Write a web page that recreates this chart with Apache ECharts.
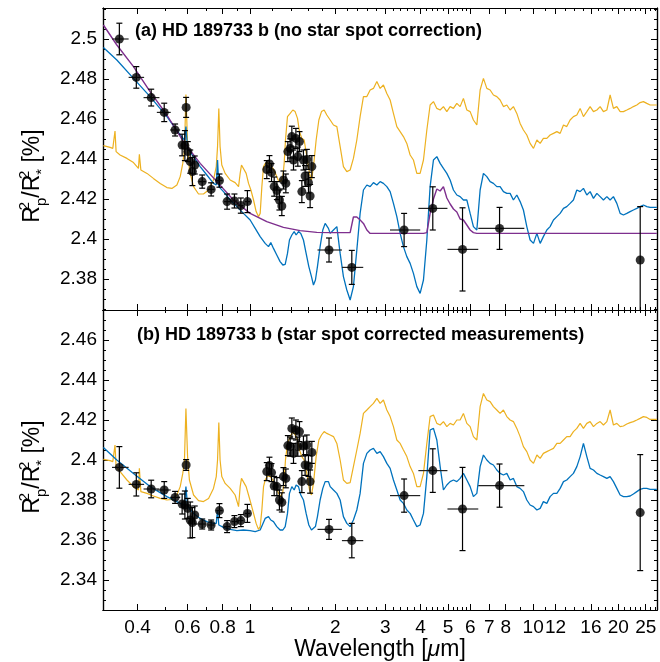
<!DOCTYPE html>
<html><head><meta charset="utf-8">
<script src="https://cdn.jsdelivr.net/npm/echarts@6/dist/echarts.min.js"></script>
<style>html,body{margin:0;padding:0;background:#fff}#c{width:660px;height:662px}</style>
</head><body><div id="c"></div>
<script>
// ---------- axis ticks ----------
const xTickLabels = [0.4, 0.6, 0.8, 1, 2, 3, 4, 5, 6, 7, 8, 10, 12, 16, 20, 25];
const xMinorTicks = [0.5, 0.7, 0.9, 1.2, 1.4, 1.6, 1.8, 2.2, 2.4, 2.6, 2.8, 3.2, 3.4, 3.6, 3.8, 4.2, 4.4, 4.6, 4.8,
  5.2, 5.4, 5.6, 5.8, 9, 11, 13, 14, 15, 17, 18, 19, 21, 22, 23, 24, 26, 27];
const yTicksA = [2.38, 2.4, 2.42, 2.44, 2.46, 2.48, 2.5];
const yTicksB = [2.34, 2.36, 2.38, 2.4, 2.42, 2.44, 2.46];
const wlMin = 0.302, wlMax = 27.4;
const yRangeA = [2.3645, 2.5155];
const yRangeB = [2.325, 2.475];

// ---------- model spectra (wavelength in micron) ----------
const waveShortY = [
  0.303, 0.320, 0.327, 0.331, 0.333, 0.336, 0.347, 0.367, 0.387, 0.403,
  0.406, 0.411, 0.432, 0.455, 0.481, 0.508, 0.529, 0.551, 0.566, 0.578,
  0.586, 0.593, 0.601, 0.610, 0.631, 0.657, 0.684, 0.713, 0.742, 0.759,
  0.767, 0.775, 0.783, 0.794, 0.816, 0.850, 0.885, 0.910, 0.922, 0.932,
  0.947, 0.968, 0.987, 1.006, 1.028, 1.050, 1.070, 1.085, 1.100, 1.115,
  1.130, 1.151, 1.177, 1.203, 1.229, 1.256, 1.283, 1.305, 1.319, 1.333,
  1.355, 1.385, 1.415, 1.442, 1.470, 1.494, 1.523, 1.552, 1.586, 1.621,
  1.647, 1.674, 1.711, 1.749, 1.787, 1.826, 1.866];
const waveShortB = [
  0.303, 0.338, 0.387, 0.443, 0.508, 0.566, 0.586, 0.593, 0.601, 0.631,
  0.666, 0.703, 0.742, 0.759, 0.767, 0.775, 0.805, 0.850, 0.898, 0.947,
  1.000, 1.042, 1.085, 1.130, 1.161, 1.183, 1.209, 1.242, 1.276, 1.305,
  1.330, 1.355, 1.377, 1.404, 1.431, 1.454, 1.482, 1.510, 1.543, 1.577,
  1.612, 1.647, 1.674, 1.701, 1.729, 1.767, 1.806, 1.841, 1.891];
const waveShortP = [0.303, 0.338, 0.387, 0.443, 0.508, 0.581, 0.666, 0.763, 0.873, 1.000, 1.145, 1.311, 1.502, 1.720];
const waveLong = [
  1.918, 1.970, 2.025, 2.080, 2.136, 2.196, 2.256, 2.317, 2.382, 2.447,
  2.514, 2.585, 2.655, 2.727, 2.804, 2.880, 2.958, 3.041, 3.124, 3.209,
  3.299, 3.389, 3.481, 3.578, 3.676, 3.776, 3.882, 3.987, 4.097, 4.211,
  4.325, 4.444, 4.568, 4.693, 4.820, 4.955, 5.090, 5.229, 5.375, 5.521,
  5.671, 5.831, 5.990, 6.152, 6.325, 6.497, 6.674, 6.861, 7.048, 7.239,
  7.442, 7.644, 7.853, 8.073, 8.292, 8.518, 8.757, 8.996, 9.240, 9.499,
  9.759, 10.03, 10.31, 10.59, 10.87, 11.18, 11.48, 11.80, 12.13, 12.46,
  12.80, 13.15, 13.51, 13.88, 14.27, 14.66, 15.06, 15.48, 15.90, 16.34,
  16.80, 17.25, 17.72, 18.22, 18.71, 19.22, 19.76, 20.30, 20.85, 21.43,
  22.02, 22.61, 23.25, 23.88, 24.53, 25.22, 25.91, 26.61, 27.36];

// panel (a)
const yellowAShort = [
  2.4467, 2.4458, 2.4453, 2.4462, 2.4540, 2.4437, 2.4420, 2.4403, 2.4382, 2.4353,
  2.4423, 2.4345, 2.4328, 2.4303, 2.4278, 2.4257, 2.4253, 2.4270, 2.4312, 2.4378,
  2.4445, 2.4723, 2.4478, 2.4345, 2.4262, 2.4225, 2.4225, 2.4245, 2.4295, 2.4362,
  2.4462, 2.4653, 2.4462, 2.4370, 2.4328, 2.4295, 2.4282, 2.4262, 2.4328, 2.4370,
  2.4362, 2.4328, 2.4278, 2.4245, 2.4195, 2.4137, 2.4112, 2.4128, 2.4262, 2.4362,
  2.4378, 2.4382, 2.4370, 2.4353, 2.4328, 2.4295, 2.4287, 2.4312, 2.4378, 2.4495,
  2.4612, 2.4628, 2.4645, 2.4637, 2.4603, 2.4537, 2.4503, 2.4495, 2.4412, 2.4328,
  2.4295, 2.4362, 2.4495, 2.4595, 2.4637, 2.4645, 2.4620];
const yellowALong = [
  2.4595, 2.4570, 2.4562, 2.4462, 2.4362, 2.4337, 2.4345, 2.4403, 2.4495, 2.4612,
  2.4712, 2.4712, 2.4745, 2.4753, 2.4787, 2.4753, 2.4770, 2.4728, 2.4695, 2.4628,
  2.4562, 2.4537, 2.4512, 2.4478, 2.4420, 2.4395, 2.4328, 2.4328, 2.4395, 2.4545,
  2.4670, 2.4687, 2.4653, 2.4645, 2.4662, 2.4637, 2.4662, 2.4653, 2.4678, 2.4662,
  2.4703, 2.4645, 2.4637, 2.4595, 2.4570, 2.4745, 2.4803, 2.4753, 2.4745, 2.4720,
  2.4712, 2.4695, 2.4662, 2.4670, 2.4645, 2.4662, 2.4628, 2.4578, 2.4545, 2.4520,
  2.4478, 2.4453, 2.4495, 2.4478, 2.4503, 2.4503, 2.4520, 2.4528, 2.4537, 2.4528,
  2.4570, 2.4562, 2.4595, 2.4612, 2.4620, 2.4653, 2.4612, 2.4637, 2.4662, 2.4637,
  2.4645, 2.4662, 2.4637, 2.4645, 2.4720, 2.4653, 2.4662, 2.4637, 2.4637, 2.4645,
  2.4653, 2.4662, 2.4670, 2.4682, 2.4687, 2.4678, 2.4670, 2.4670, 2.4670];
const blueAShort = [
  2.4957, 2.4895, 2.4803, 2.4712, 2.4612, 2.4520, 2.4495, 2.4562, 2.4453, 2.4412,
  2.4362, 2.4320, 2.4278, 2.4270, 2.4395, 2.4262, 2.4237, 2.4195, 2.4162, 2.4128,
  2.4095, 2.4053, 2.4012, 2.3978, 2.3962, 2.3982, 2.3953, 2.3920, 2.3887, 2.3870,
  2.3873, 2.3928, 2.3995, 2.4020, 2.4037, 2.4020, 2.4037, 2.4028, 2.3995, 2.3928,
  2.3862, 2.3812, 2.3770, 2.3795, 2.3862, 2.3962, 2.4045, 2.4078, 2.4053];
const blueALong = [
  2.4028, 2.4045, 2.4062, 2.3928, 2.3812, 2.3745, 2.3695, 2.3762, 2.3945, 2.4128,
  2.4245, 2.4270, 2.4262, 2.4282, 2.4270, 2.4287, 2.4278, 2.4262, 2.4237, 2.4178,
  2.4112, 2.4028, 2.3962, 2.3912, 2.3878, 2.3828, 2.3762, 2.3728, 2.3795, 2.3995,
  2.4262, 2.4395, 2.4412, 2.4378, 2.4353, 2.4328, 2.4295, 2.4245, 2.4220, 2.4212,
  2.4195, 2.4195, 2.4128, 2.4062, 2.4045, 2.4245, 2.4328, 2.4312, 2.4287, 2.4278,
  2.4262, 2.4262, 2.4237, 2.4228, 2.4228, 2.4195, 2.4220, 2.4187, 2.4145, 2.4062,
  2.3995, 2.3978, 2.4028, 2.3978, 2.4012, 2.4045, 2.4062, 2.4095, 2.4112, 2.4128,
  2.4153, 2.4162, 2.4178, 2.4195, 2.4245, 2.4237, 2.4253, 2.4220, 2.4237, 2.4203,
  2.4228, 2.4212, 2.4195, 2.4212, 2.4195, 2.4212, 2.4178, 2.4128, 2.4120, 2.4128,
  2.4137, 2.4145, 2.4153, 2.4162, 2.4170, 2.4162, 2.4158, 2.4158, 2.4158];
const purpleAShort = [2.5070, 2.4970, 2.4862, 2.4737, 2.4620, 2.4487, 2.4378, 2.4287, 2.4195, 2.4128, 2.4087, 2.4058, 2.4042, 2.4033];
const purpleALong = [
  2.4032, 2.4032, 2.4032, 2.4032, 2.4032, 2.4032, 2.4032, 2.4110, 2.4110, 2.4095,
  2.4078, 2.4045, 2.4028, 2.4028, 2.4028, 2.4028, 2.4028, 2.4028, 2.4028, 2.4028,
  2.4028, 2.4028, 2.4028, 2.4028, 2.4028, 2.4028, 2.4028, 2.4028, 2.4028, 2.4032,
  2.4128, 2.4200, 2.4250, 2.4240, 2.4262, 2.4205, 2.4175, 2.4150, 2.4135, 2.4100,
  2.4095, 2.4070, 2.4045, 2.4032, 2.4028, 2.4028, 2.4028, 2.4028, 2.4028, 2.4028,
  2.4028, 2.4028, 2.4028, 2.4028, 2.4028, 2.4028, 2.4028, 2.4028, 2.4028, 2.4028,
  2.4028, 2.4028, 2.4028, 2.4028, 2.4028, 2.4028, 2.4028, 2.4028, 2.4028, 2.4028,
  2.4028, 2.4028, 2.4028, 2.4028, 2.4028, 2.4028, 2.4028, 2.4028, 2.4028, 2.4028,
  2.4028, 2.4028, 2.4028, 2.4028, 2.4028, 2.4028, 2.4028, 2.4028, 2.4028, 2.4028,
  2.4028, 2.4028, 2.4028, 2.4028, 2.4028, 2.4028, 2.4028, 2.4028, 2.4028];

// panel (b)
const yellowBShort = [
  2.4003, 2.3997, 2.3992, 2.4000, 2.4075, 2.3967, 2.3942, 2.3900, 2.3867, 2.3850,
  2.3958, 2.3842, 2.3833, 2.3820, 2.3808, 2.3800, 2.3803, 2.3825, 2.3867, 2.3933,
  2.4000, 2.4258, 2.4017, 2.3900, 2.3825, 2.3797, 2.3792, 2.3808, 2.3858, 2.3917,
  2.4000, 2.4187, 2.4000, 2.3917, 2.3883, 2.3858, 2.3825, 2.3767, 2.3867, 2.3908,
  2.3900, 2.3867, 2.3825, 2.3783, 2.3733, 2.3683, 2.3653, 2.3667, 2.3750, 2.3867,
  2.3900, 2.3920, 2.3917, 2.3900, 2.3870, 2.3837, 2.3817, 2.3842, 2.3900, 2.4000,
  2.4083, 2.4117, 2.4142, 2.4125, 2.4100, 2.4050, 2.4017, 2.4000, 2.3933, 2.3850,
  2.3825, 2.3883, 2.4017, 2.4100, 2.4125, 2.4142, 2.4133];
const yellowBLong = [
  2.4125, 2.4117, 2.4083, 2.4000, 2.3900, 2.3883, 2.3887, 2.3967, 2.4050, 2.4133,
  2.4233, 2.4250, 2.4267, 2.4283, 2.4308, 2.4283, 2.4300, 2.4250, 2.4217, 2.4167,
  2.4100, 2.4083, 2.4050, 2.4017, 2.3967, 2.3933, 2.3867, 2.3867, 2.3933, 2.4083,
  2.4217, 2.4225, 2.4183, 2.4175, 2.4192, 2.4167, 2.4183, 2.4175, 2.4200, 2.4200,
  2.4233, 2.4183, 2.4167, 2.4117, 2.4100, 2.4267, 2.4333, 2.4300, 2.4292, 2.4267,
  2.4250, 2.4233, 2.4250, 2.4217, 2.4200, 2.4192, 2.4158, 2.4117, 2.4067, 2.4042,
  2.4000, 2.3983, 2.4025, 2.4008, 2.4033, 2.4042, 2.4050, 2.4058, 2.4083, 2.4083,
  2.4100, 2.4117, 2.4117, 2.4142, 2.4158, 2.4183, 2.4158, 2.4183, 2.4192, 2.4167,
  2.4183, 2.4192, 2.4175, 2.4192, 2.4250, 2.4175, 2.4183, 2.4167, 2.4170, 2.4180,
  2.4187, 2.4192, 2.4200, 2.4208, 2.4217, 2.4213, 2.4203, 2.4203, 2.4203];
const blueBShort = [
  2.4062, 2.4000, 2.3933, 2.3867, 2.3817, 2.3783, 2.3775, 2.3867, 2.3767, 2.3733,
  2.3708, 2.3692, 2.3683, 2.3683, 2.3750, 2.3675, 2.3663, 2.3653, 2.3647, 2.3650,
  2.3647, 2.3642, 2.3650, 2.3708, 2.3717, 2.3700, 2.3692, 2.3667, 2.3650, 2.3650,
  2.3667, 2.3733, 2.3833, 2.3867, 2.3850, 2.3875, 2.3867, 2.3825, 2.3800, 2.3733,
  2.3675, 2.3650, 2.3650, 2.3667, 2.3717, 2.3800, 2.3858, 2.3892, 2.3892];
const blueBLong = [
  2.3867, 2.3850, 2.3833, 2.3800, 2.3717, 2.3683, 2.3667, 2.3700, 2.3750, 2.3833,
  2.3983, 2.4033, 2.4050, 2.4058, 2.4033, 2.4042, 2.4017, 2.3983, 2.3958, 2.3900,
  2.3850, 2.3800, 2.3783, 2.3750, 2.3733, 2.3700, 2.3667, 2.3675, 2.3733, 2.3917,
  2.4150, 2.4158, 2.4100, 2.3967, 2.3850, 2.3875, 2.3892, 2.3900, 2.3892, 2.3908,
  2.3933, 2.3900, 2.3867, 2.3817, 2.3833, 2.3967, 2.4025, 2.4000, 2.3983, 2.3975,
  2.3950, 2.3933, 2.3925, 2.3933, 2.3900, 2.3908, 2.3867, 2.3858, 2.3842, 2.3800,
  2.3775, 2.3767, 2.3750, 2.3758, 2.3792, 2.3783, 2.3817, 2.3833, 2.3833, 2.3858,
  2.3892, 2.3900, 2.3917, 2.3933, 2.3967, 2.4017, 2.4083, 2.4017, 2.3958, 2.3950,
  2.3933, 2.3925, 2.3917, 2.3908, 2.3917, 2.3892, 2.3858, 2.3825, 2.3817, 2.3817,
  2.3820, 2.3830, 2.3842, 2.3853, 2.3858, 2.3858, 2.3853, 2.3853, 2.3853];

// ---------- measurements ----------
const ptsWave = [0.345, 0.396, 0.447, 0.497, 0.543, 0.575, 0.594, 0.588, 0.602, 0.614, 0.625, 0.637, 0.677, 0.728, 0.779, 0.829, 0.880, 0.927, 0.978,
  1.145, 1.170, 1.190, 1.216, 1.243, 1.269, 1.294, 1.311, 1.337, 1.359, 1.385, 1.404, 1.423, 1.451, 1.474, 1.494, 1.523, 1.543, 1.564, 1.586, 1.607, 1.629, 1.652,
  1.90, 2.287, 3.50, 4.42, 5.63, 7.61, 23.9];
const ptsXlo = [0.325, 0.372, 0.420, 0.468, 0.522, null, null, null, null, null, null, null, 0.657, 0.708, 0.759, 0.809, 0.860, 0.907, 0.958,
  null, null, null, null, null, null, null, null, null, null, null, null, null, null, null, null, null, null, null, null, null, null, null,
  1.73, 2.11, 3.12, 3.93, 4.98, 6.40, null];
const ptsXhi = [0.372, 0.422, 0.478, 0.524, 0.566, null, null, null, null, null, null, null, 0.697, 0.748, 0.799, 0.849, 0.900, 0.947, 0.998,
  null, null, null, null, null, null, null, null, null, null, null, null, null, null, null, null, null, null, null, null, null, null, null,
  2.11, 2.51, 3.99, 4.98, 6.40, 9.31, null];
const ptsValA = [2.5000, 2.4808, 2.4707, 2.4633, 2.4545, 2.4470, 2.4658, 2.4467, 2.4437, 2.4387, 2.4337, 2.4370, 2.4287, 2.4248, 2.4292, 2.4187, 2.4190, 2.4167, 2.4187,
  2.4347, 2.4375, 2.4332, 2.4262, 2.4242, 2.4195, 2.4165, 2.4295, 2.4278, 2.4437, 2.4453, 2.4512, 2.4395, 2.4503, 2.4412, 2.4487, 2.4237, 2.4395, 2.4315, 2.4398, 2.4282, 2.4215, 2.4362,
  2.3945, 2.3858, 2.4045, 2.4153, 2.3948, 2.4053, 2.3895];
const ptsErrA = [0.0079, 0.0054, 0.0042, 0.0046, 0.0030, 0.0054, 0.0050, 0.0075, 0.0050, 0.0058, 0.0070, 0.0045, 0.0033, 0.0033, 0.0033, 0.0038, 0.0035, 0.0038, 0.0055,
  0.0045, 0.0042, 0.0045, 0.0048, 0.0045, 0.0050, 0.0048, 0.0045, 0.0047, 0.0050, 0.0048, 0.0052, 0.0050, 0.0050, 0.0048, 0.0050, 0.0055, 0.0050, 0.0052, 0.0050, 0.0052, 0.0058, 0.0055,
  0.0060, 0.0085, 0.0083, 0.0108, 0.0208, 0.0105, 0.0267];
const ptsValB = [2.3963, 2.3878, 2.3855, 2.3850, 2.3813, 2.3780, 2.3975, 2.3775, 2.3758, 2.3700, 2.3687, 2.3725, 2.3680, 2.3675, 2.3747, 2.3667, 2.3692, 2.3697, 2.3733,
  2.3942, 2.3972, 2.3937, 2.3870, 2.3867, 2.3800, 2.3788, 2.3917, 2.3908, 2.4072, 2.4067, 2.4158, 2.4033, 2.4150, 2.4067, 2.4142, 2.3892, 2.4070, 2.3975, 2.4075, 2.3970, 2.3892, 2.4038,
  2.3653, 2.3597, 2.3822, 2.3947, 2.3755, 2.3872, 2.3737];
const ptsErrB = [0.0104, 0.0058, 0.0044, 0.0042, 0.0030, 0.0050, 0.0027, 0.0070, 0.0050, 0.0090, 0.0075, 0.0045, 0.0025, 0.0025, 0.0035, 0.0030, 0.0030, 0.0030, 0.0045,
  0.0045, 0.0042, 0.0045, 0.0048, 0.0045, 0.0050, 0.0048, 0.0045, 0.0047, 0.0050, 0.0048, 0.0052, 0.0050, 0.0050, 0.0048, 0.0050, 0.0055, 0.0050, 0.0052, 0.0050, 0.0052, 0.0058, 0.0055,
  0.0050, 0.0086, 0.0083, 0.0109, 0.0208, 0.0108, 0.0290];

// ---------- build ----------
const FONT = 'Liberation Sans, Arial, Helvetica, sans-serif';
const L = Math.log10;
const C_YEL = '#EDB120', C_BLUE = '#0072BD', C_PURP = '#7E2F8E';

function curve(w, v) { return w.map((x, i) => [L(x), v[i]]); }
function pts(vals, errs) {
  return ptsWave.map((w, i) => [L(w), vals[i], errs[i],
    ptsXlo[i] == null ? null : L(ptsXlo[i]), ptsXhi[i] == null ? null : L(ptsXhi[i])]);
}
const xMajLog = xTickLabels.map(L);
const xMinLog = xMinorTicks.map(L);
function xLabelFmt(v) {
  let best = 0, d = 1e9;
  xMajLog.forEach((t, i) => { const dd = Math.abs(t - v); if (dd < d) { d = dd; best = i; } });
  return String(xTickLabels[best]);
}
function minorY(range, majors) {
  const out = [];
  for (let k = Math.ceil(range[0] * 200 - 1e-6); k <= Math.floor(range[1] * 200 + 1e-6); k++) {
    const v = k / 200;
    if (!majors.some(m => Math.abs(m - v) < 1e-6)) out.push(v);
  }
  return out;
}

const lineSty = { color: '#000', width: 1.2 };
function xAxesFor(gi, withLabels) {
  const base = {
    type: 'value', gridIndex: gi, min: L(wlMin), max: L(wlMax),
    splitLine: { show: false }, axisLine: { show: true, onZero: false, lineStyle: lineSty },
    axisLabel: { show: false }
  };
  const bottomMaj = Object.assign({}, base, {
    position: 'bottom',
    axisTick: { show: true, inside: true, length: 6, lineStyle: { color: '#000', width: 1 }, customValues: xMajLog },
    axisLabel: withLabels ? { show: true, customValues: xMajLog, formatter: xLabelFmt, fontSize: 19, fontFamily: FONT, color: '#000', margin: 8 } : { show: false }
  });
  if (withLabels) {
    bottomMaj.name = 'Wavelength [{i|\u03bc}m]';
    bottomMaj.nameLocation = 'middle';
    bottomMaj.nameGap = 27;
    bottomMaj.nameTextStyle = { fontSize: 23, fontFamily: FONT, color: '#000', rich: { i: { fontSize: 23, fontFamily: FONT, fontStyle: 'italic', color: '#000' } } };
  }
  const bottomMin = Object.assign({}, base, { position: 'bottom',
    axisTick: { show: true, inside: true, length: 3, lineStyle: { color: '#000', width: 1 }, customValues: xMinLog } });
  const topMaj = Object.assign({}, base, { position: 'top',
    axisTick: { show: true, inside: true, length: 6, lineStyle: { color: '#000', width: 1 }, customValues: xMajLog } });
  const topMin = Object.assign({}, base, { position: 'top',
    axisTick: { show: true, inside: true, length: 3, lineStyle: { color: '#000', width: 1 }, customValues: xMinLog } });
  return [bottomMaj, bottomMin, topMaj, topMin];
}
function yAxesFor(gi, range, majors, namePad) {
  const minors = minorY(range, majors);
  const base = {
    type: 'value', gridIndex: gi, min: range[0], max: range[1],
    splitLine: { show: false }, axisLine: { show: true, onZero: false, lineStyle: lineSty },
    axisLabel: { show: false }
  };
  const leftMaj = Object.assign({}, base, {
    position: 'left',
    axisTick: { show: true, inside: true, length: 6, lineStyle: { color: '#000', width: 1 }, customValues: majors },
    axisLabel: { show: true, customValues: majors, fontSize: 19, fontFamily: FONT, color: '#000', margin: 6 },
    name: 'R{sup|2}{sub|p}/R{sup|2}{sub|*} [%]',
    nameLocation: 'middle', nameGap: 52, nameRotate: 90,
    nameTextStyle: {
      fontSize: 23, fontFamily: FONT, color: '#000', lineHeight: 32, padding: namePad,
      rich: {
        sup: { fontSize: 15, fontFamily: FONT, color: '#000', verticalAlign: 'top', lineHeight: 15, width: 0 },
        sub: { fontSize: 15, fontFamily: FONT, color: '#000', verticalAlign: 'bottom', lineHeight: 15 }
      }
    }
  });
  const leftMin = Object.assign({}, base, { position: 'left',
    axisTick: { show: true, inside: true, length: 3, lineStyle: { color: '#000', width: 1 }, customValues: minors } });
  const rightMaj = Object.assign({}, base, { position: 'right',
    axisTick: { show: true, inside: true, length: 6, lineStyle: { color: '#000', width: 1 }, customValues: majors } });
  const rightMin = Object.assign({}, base, { position: 'right',
    axisTick: { show: true, inside: true, length: 3, lineStyle: { color: '#000', width: 1 }, customValues: minors } });
  return [leftMaj, leftMin, rightMaj, rightMin];
}

function errRender(params, api) {
  const x = api.value(0), y = api.value(1), e = api.value(2), lo = api.value(3), hi = api.value(4);
  const p1 = api.coord([x, y + e]), p2 = api.coord([x, y - e]);
  const st = { stroke: '#000', lineWidth: 1.2 };
  const ch = [
    { type: 'line', shape: { x1: p1[0], y1: p1[1], x2: p2[0], y2: p2[1] }, style: st },
    { type: 'line', shape: { x1: p1[0] - 3, y1: p1[1], x2: p1[0] + 3, y2: p1[1] }, style: st },
    { type: 'line', shape: { x1: p2[0] - 3, y1: p2[1], x2: p2[0] + 3, y2: p2[1] }, style: st }
  ];
  if (isFinite(lo) && isFinite(hi)) {
    const a = api.coord([lo, y]), b = api.coord([hi, y]);
    ch.push({ type: 'line', shape: { x1: a[0], y1: a[1], x2: b[0], y2: b[1] }, style: { stroke: '#222', lineWidth: 1.2 } });
  }
  return { type: 'group', children: ch };
}
function lineSeries(data, color, xi, yi, w) {
  return { type: 'line', data: data, xAxisIndex: xi, yAxisIndex: yi, showSymbol: false, symbol: 'none',
    lineStyle: { color: color, width: w }, itemStyle: { color: color }, clip: true, silent: true, z: 2 };
}
function errSeries(data, xi, yi) {
  return { type: 'custom', data: data, xAxisIndex: xi, yAxisIndex: yi, renderItem: errRender,
    encode: { x: 0, y: 1 }, clip: true, silent: true, z: 5 };
}
function ptSeries(data, xi, yi) {
  return { type: 'scatter', data: data.map(d => [d[0], d[1]]), xAxisIndex: xi, yAxisIndex: yi,
    symbol: 'circle', symbolSize: 9, itemStyle: { color: '#000' }, silent: true, z: 6 };
}

const dataA = pts(ptsValA, ptsErrA);
const dataB = pts(ptsValB, ptsErrB);

const option = {
  animation: false,
  backgroundColor: '#fff',
  title: [
    { text: '(a) HD 189733 b (no star spot correction)', left: 135, top: 21, padding: 0,
      textStyle: { fontSize: 18, fontWeight: 'bold', fontFamily: FONT, color: '#000', lineHeight: 20 } },
    { text: '(b) HD 189733 b (star spot corrected measurements)', left: 137, top: 325, padding: 0,
      textStyle: { fontSize: 18, fontWeight: 'bold', fontFamily: FONT, color: '#000', lineHeight: 20 } }
  ],
  grid: [
    { left: 103, top: 8, width: 554, height: 302, containLabel: false, outerBoundsMode: 'none' },
    { left: 103, top: 310, width: 554, height: 300, containLabel: false, outerBoundsMode: 'none' }
  ],
  xAxis: xAxesFor(0, false).concat(xAxesFor(1, true)),
  yAxis: yAxesFor(0, yRangeA, yTicksA, [0, 34, 0, 0]).concat(yAxesFor(1, yRangeB, yTicksB, [0, 14, 0, 0])),
  series: [
    lineSeries(curve(waveShortY, yellowAShort).concat(curve(waveLong, yellowALong)), C_YEL, 0, 0, 1.2),
    lineSeries(curve(waveShortB, blueAShort).concat(curve(waveLong, blueALong)), C_BLUE, 0, 0, 1.3),
    lineSeries(curve(waveShortP, purpleAShort).concat(curve(waveLong, purpleALong)), C_PURP, 0, 0, 1.4),
    errSeries(dataA, 0, 0),
    ptSeries(dataA, 0, 0),
    lineSeries(curve(waveShortY, yellowBShort).concat(curve(waveLong, yellowBLong)), C_YEL, 4, 4, 1.2),
    lineSeries(curve(waveShortB, blueBShort).concat(curve(waveLong, blueBLong)), C_BLUE, 4, 4, 1.3),
    errSeries(dataB, 4, 4),
    ptSeries(dataB, 4, 4)
  ]
};
const chart = echarts.init(document.getElementById('c'), null, { renderer: 'canvas' });
chart.setOption(option);
</script></body></html>
